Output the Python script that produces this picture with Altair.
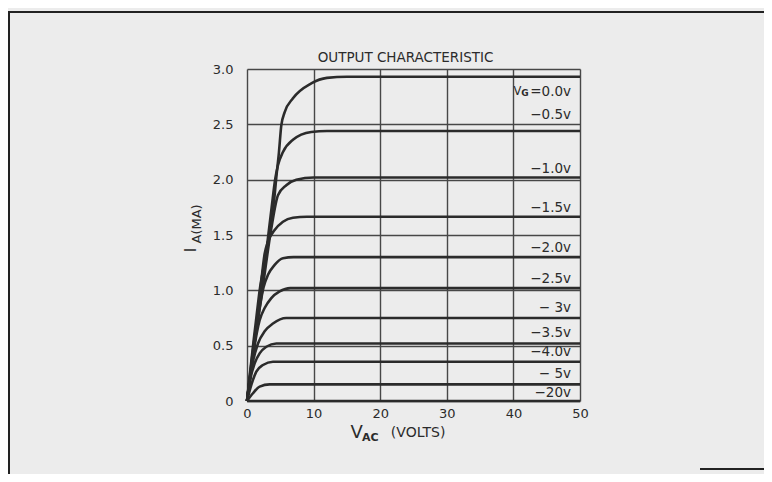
import altair as alt
import pandas as pd

# ---- curve data (V_AC in volts, I_A in mA) ----
V_g00 = [0, 0.5, 1.0, 1.4, 1.9, 2.65, 3.4, 4.15, 4.4, 4.8, 5.15, 5.66, 6.9, 9.65, 12, 15, 50]
I_g00 = [0, 0.28, 0.55, 0.75, 1.0, 1.26, 1.53, 1.86, 2.02, 2.25, 2.49, 2.61, 2.735, 2.87, 2.92, 2.93, 2.93]

V_g05 = [0, 1.2, 2.2, 3.0, 3.7, 4.25, 4.65, 5.4, 6.9, 9.65, 12, 50]
I_g05 = [0, 0.6, 1.0, 1.4, 1.75, 2.01, 2.13, 2.25, 2.36, 2.43, 2.44, 2.44]

V_g10 = [0, 1.3, 2.3, 3.65, 4.65, 5.9, 7.4, 10, 50]
I_g10 = [0, 0.6, 1.0, 1.56, 1.86, 1.95, 2.0, 2.02, 2.02]

V_g15 = [0, 1.2, 2.0, 2.65, 3.15, 4.15, 5.4, 6.9, 9, 50]
I_g15 = [0, 0.55, 1.0, 1.33, 1.44, 1.545, 1.62, 1.656, 1.665, 1.665]

V_g20 = [0, 1.2, 2.5, 3.15, 4.15, 5.4, 7, 50]
I_g20 = [0, 0.55, 1.03, 1.14, 1.23, 1.29, 1.30, 1.30]

V_g25 = [0, 1.0, 1.9, 2.65, 3.65, 4.9, 6.5, 50]
I_g25 = [0, 0.45, 0.73, 0.84, 0.93, 0.99, 1.02, 1.02]

V_g30 = [0, 0.8, 1.65, 2.65, 3.9, 5.9, 50]
I_g30 = [0, 0.33, 0.52, 0.63, 0.70, 0.75, 0.75]

V_g35 = [0, 0.5, 1.15, 1.9, 2.9, 4.4, 50]
I_g35 = [0, 0.2, 0.34, 0.43, 0.49, 0.52, 0.52]

V_g40 = [0, 0.65, 1.4, 2.4, 3.9, 50]
I_g40 = [0, 0.145, 0.265, 0.325, 0.355, 0.355]

V_g50 = [0, 0.9, 1.9, 3.4, 50]
I_g50 = [0, 0.07, 0.13, 0.15, 0.15]

V_g200 = [0, 50]
I_g200 = [0, 0]

curve_names = ["0.0", "-0.5", "-1.0", "-1.5", "-2.0", "-2.5", "-3", "-3.5", "-4.0", "-5", "-20"]
curve_vs = [V_g00, V_g05, V_g10, V_g15, V_g20, V_g25, V_g30, V_g35, V_g40, V_g50, V_g200]
curve_is = [I_g00, I_g05, I_g10, I_g15, I_g20, I_g25, I_g30, I_g35, I_g40, I_g50, I_g200]

# ---- gate-voltage labels (text, y position in mA) ----
label_texts = ["=0.0v", "\u22120.5v", "\u22121.0v", "\u22121.5v", "\u22122.0v", "\u22122.5v",
               "\u2212 3v", "\u22123.5v", "\u22124.0v", "\u2212 5v", "\u221220v"]
label_ys = [2.79, 2.585, 2.10, 1.74, 1.38, 1.10, 0.84, 0.61, 0.44, 0.245, 0.07]
label_x = 48.65

x_ticks = [0, 10, 20, 30, 40, 50]
y_ticks = [0, 0.5, 1.0, 1.5, 2.0, 2.5, 3.0]

INK = "#2b2b2b"
GRID = "#474747"
FONT = "DejaVu Sans"
BG = "#ececec"

rows = []
for name, vs, is_ in zip(curve_names, curve_vs, curve_is):
    for v, i in zip(vs, is_):
        rows.append({"curve": name, "v": v, "i": i})
curves_df = pd.DataFrame(rows)

labels_df = pd.DataFrame({"text": label_texts, "i": label_ys, "v": [label_x] * len(label_texts)})


def X(field="v"):
    return alt.X(f"{field}:Q",
                 scale=alt.Scale(domain=[0, 50], nice=False, zero=False),
                 axis=alt.Axis(values=x_ticks, grid=True, gridColor=GRID, gridWidth=1.4,
                               gridOpacity=1, domain=False, ticks=False, labelPadding=6,
                               labelFont=FONT, labelFontSize=13, labelColor=INK,
                               labelFlush=False, title=None))


def Y(field="i"):
    return alt.Y(f"{field}:Q",
                 scale=alt.Scale(domain=[0, 3], nice=False, zero=False),
                 axis=alt.Axis(values=y_ticks, grid=True, gridColor=GRID, gridWidth=1.4,
                               gridOpacity=1, domain=False, ticks=False, labelPadding=14,
                               labelFont=FONT, labelFontSize=13, labelColor=INK,
                               labelFlush=False, title=None,
                               labelExpr="datum.value == 0 ? '0' : format(datum.value, '.1f')"))


lines = alt.Chart(curves_df).mark_line(
    color=INK, strokeWidth=2.6, interpolate="monotone", clip=False
).encode(x=X(), y=Y(), detail="curve:N")

labels = alt.Chart(labels_df).mark_text(
    align="right", baseline="middle", font=FONT, fontSize=13.5, color=INK
).encode(x=X(), y=Y(), text="text:N")

# V_G subscript pieces for the first label
vg_df = pd.DataFrame({"text": ["V", "G"], "v": [41.2, 42.3], "i": [2.79, 2.78]})
vg_v = alt.Chart(vg_df.iloc[[0]]).mark_text(
    align="right", baseline="middle", font=FONT, fontSize=11.5, color=INK
).encode(x=X(), y=Y(), text="text:N")
vg_g = alt.Chart(vg_df.iloc[[1]]).mark_text(
    align="right", baseline="middle", font=FONT, fontSize=9, fontWeight="bold", color=INK
).encode(x=X(), y=Y(), text="text:N")

# title and axis titles (with subscripts) as text
title_df = pd.DataFrame({"text": ["OUTPUT CHARACTERISTIC"], "v": [23.8], "i": [3.1]})
title = alt.Chart(title_df).mark_text(
    align="center", baseline="middle", font=FONT, fontSize=13.5, color=INK
).encode(x=X(), y=Y(), text="text:N")

xt_df = pd.DataFrame({"text": ["V", "AC", "(VOLTS)"], "v": [16.45, 18.5, 25.7],
                      "i": [-0.29, -0.335, -0.29]})
xt_v = alt.Chart(xt_df.iloc[[0]]).mark_text(
    align="center", baseline="middle", font=FONT, fontSize=18, color=INK
).encode(x=X(), y=Y(), text="text:N")
xt_ac = alt.Chart(xt_df.iloc[[1]]).mark_text(
    align="center", baseline="middle", font=FONT, fontSize=11, fontWeight="bold", color=INK
).encode(x=X(), y=Y(), text="text:N")
xt_volts = alt.Chart(xt_df.iloc[[2]]).mark_text(
    align="center", baseline="middle", font=FONT, fontSize=14, color=INK
).encode(x=X(), y=Y(), text="text:N")

yt_df = pd.DataFrame({"text": ["I", "A(MA)"], "v": [-8.35, -7.45], "i": [1.365, 1.60]})
yt_i = alt.Chart(yt_df.iloc[[0]]).mark_text(
    align="center", baseline="middle", font=FONT, fontSize=15, angle=270, color=INK
).encode(x=X(), y=Y(), text="text:N")
yt_a = alt.Chart(yt_df.iloc[[1]]).mark_text(
    align="center", baseline="middle", font=FONT, fontSize=13, angle=270, color=INK
).encode(x=X(), y=Y(), text="text:N")

# page frame of the scanned figure
frame_top = alt.Chart(pd.DataFrame({"a": [0]})).mark_rule(color="#222222", strokeWidth=2).encode(
    x=alt.value(-239), x2=alt.value(525), y=alt.value(-57))
frame_left = alt.Chart(pd.DataFrame({"a": [0]})).mark_rule(color="#222222", strokeWidth=2).encode(
    x=alt.value(-238), y=alt.value(-57), y2=alt.value(413))
frame_bottom = alt.Chart(pd.DataFrame({"a": [0]})).mark_rule(color="#222222", strokeWidth=2).encode(
    x=alt.value(453), x2=alt.value(525), y=alt.value(400))

chart = alt.layer(
    lines, labels, vg_v, vg_g, title, xt_v, xt_ac, xt_volts, yt_i, yt_a,
    frame_top, frame_left, frame_bottom
).properties(
    width=333, height=332,
    autosize=alt.AutoSizeParams(type="none"),
    padding={"left": 239, "top": 61, "right": 184, "bottom": 73},
    background=BG,
).configure_view(stroke=None)

chart.save("out.html", embed_options={"renderer": "svg", "actions": False})
